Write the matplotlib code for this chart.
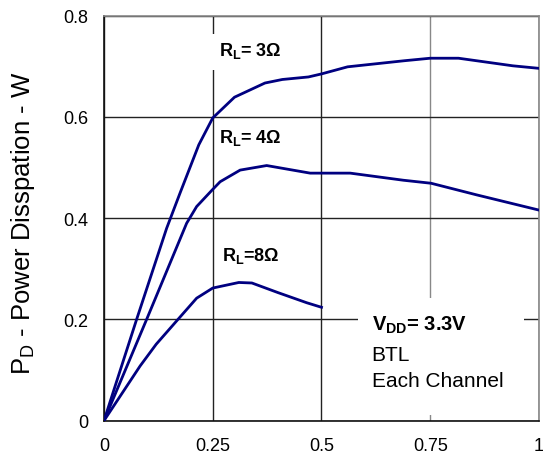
import matplotlib.pyplot as plt
from matplotlib.patches import Rectangle

plt.rcParams['font.family'] = ['Liberation Sans', 'DejaVu Sans']

# Data
x_3ohm = [0, 0.075, 0.144, 0.175, 0.218, 0.25, 0.30, 0.37, 0.41, 0.47, 0.50, 0.56, 0.69, 0.75, 0.815, 0.94, 1.0]
y_3ohm = [0, 0.20, 0.38, 0.45, 0.545, 0.598, 0.639, 0.667, 0.674, 0.679, 0.685, 0.699, 0.711, 0.716, 0.716, 0.701, 0.696]

x_4ohm = [0, 0.098, 0.19, 0.213, 0.249, 0.267, 0.313, 0.374, 0.474, 0.566, 0.688, 0.752, 0.857, 1.0]
y_4ohm = [0, 0.20, 0.39, 0.423, 0.456, 0.472, 0.495, 0.504, 0.489, 0.489, 0.475, 0.469, 0.446, 0.416]

x_8ohm = [0, 0.083, 0.12, 0.17, 0.213, 0.25, 0.31, 0.34, 0.40, 0.466, 0.50]
y_8ohm = [0, 0.108, 0.151, 0.20, 0.242, 0.262, 0.273, 0.272, 0.253, 0.233, 0.224]

x_ticks = [0, 0.25, 0.5, 0.75, 1]
x_tick_labels = ['0', '0.25', '0.5', '0.75', '1']
y_ticks = [0, 0.2, 0.4, 0.6, 0.8]
y_tick_labels = ['0', '0.2', '0.4', '0.6', '0.8']

line_color = '#000080'

fig = plt.figure(figsize=(5.43, 4.6), dpi=100)
ax = fig.add_axes([0.1915, 0.0833, 0.8011, 0.8804])

ax.plot(x_3ohm, y_3ohm, color=line_color, lw=2.0, zorder=3)
ax.plot(x_4ohm, y_4ohm, color=line_color, lw=2.0, zorder=3)
ax.plot(x_8ohm, y_8ohm, color=line_color, lw=2.0, zorder=3)

ax.set_xlim(0, 1)
ax.set_ylim(0, 0.8)
ax.set_xticks(x_ticks)
ax.set_xticklabels(x_tick_labels)
ax.set_yticks(y_ticks)
ax.set_yticklabels(y_tick_labels)
ax.tick_params(axis='both', length=0, labelsize=13)
ax.tick_params(axis='x', pad=12)
ax.tick_params(axis='y', pad=11)

ax.grid(True, color='#222222', lw=1.0, zorder=1)
ax.get_xgridlines()[3].set_color('#888888')

for side in ['top', 'right']:
    ax.spines[side].set_color('#888888')
    ax.spines[side].set_linewidth(1.2)
for side in ['left', 'bottom']:
    ax.spines[side].set_color('#111111')
    ax.spines[side].set_linewidth(1.2)

ax.set_ylabel(r'P$_\mathregular{D}$ - Power Disspation - W', fontsize=18.5)
ax.yaxis.set_label_coords(-0.153, 0.49)

# white patches that break the grid behind the labels
ax.add_patch(Rectangle((0.245, 0.693), 0.17, 0.07, color='white', lw=0, zorder=2))
ax.add_patch(Rectangle((0.258, 0.506), 0.17, 0.07, color='white', lw=0, zorder=2))
ax.add_patch(Rectangle((0.584, 0.012), 0.381, 0.231, color='white', lw=0, zorder=2))

ax.text(0.264, 0.733, r'R$_\mathregular{L}$= 3Ω', fontsize=13, fontweight='bold',
        va='center', ha='left', zorder=4)
ax.text(0.264, 0.561, r'R$_\mathregular{L}$= 4Ω', fontsize=13, fontweight='bold',
        va='center', ha='left', zorder=4)
ax.text(0.272, 0.327, r'R$_\mathregular{L}$=8Ω', fontsize=13, fontweight='bold',
        va='center', ha='left', zorder=4)

ax.text(0.615, 0.19, r'V$_\mathregular{DD}$= 3.3V', fontsize=14.5, fontweight='bold',
        va='center', ha='left', zorder=4)
ax.text(0.615, 0.131, 'BTL', fontsize=15, va='center', ha='left', zorder=4)
ax.text(0.615, 0.079, 'Each Channel', fontsize=15, va='center', ha='left', zorder=4)

fig.savefig('out.png', dpi=100)
